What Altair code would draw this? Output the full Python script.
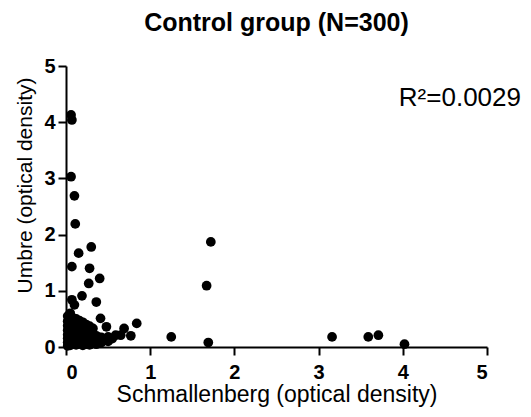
import altair as alt
import pandas as pd

# Scattered (outlying) points
outer_x = [0.06, 0.07, 0.06, 0.10, 0.11, 0.15, 0.30, 0.07, 0.28, 0.40, 0.27, 0.19, 0.07, 0.10,
           0.36, 0.41, 0.48, 0.84, 0.69, 0.77, 1.25, 0.59, 0.65, 1.67, 1.69, 1.72, 3.16, 3.59,
           3.71, 4.02]
outer_y = [4.13, 4.04, 3.03, 2.69, 2.19, 1.67, 1.78, 1.43, 1.40, 1.22, 1.13, 0.91, 0.84, 0.75,
           0.80, 0.51, 0.36, 0.42, 0.33, 0.20, 0.18, 0.21, 0.21, 1.09, 0.08, 1.87, 0.18, 0.18,
           0.21, 0.05]

# Dense cluster near the origin (estimated)
blob_x = [0.02] * 8 + [0.05] * 8 + [0.08] * 7 + [0.12] * 7 + [0.16] * 6 + [0.20] * 6 + \
         [0.24] * 5 + [0.28] * 5 + [0.32] * 4 + [0.36] * 3 + [0.42] * 2 + [0.50] * 2 + [0.55]
blob_y = [0.02, 0.08, 0.15, 0.22, 0.30, 0.38, 0.46, 0.55,
          0.03, 0.10, 0.18, 0.26, 0.34, 0.42, 0.50, 0.60,
          0.05, 0.12, 0.20, 0.28, 0.36, 0.45, 0.52,
          0.04, 0.10, 0.17, 0.25, 0.33, 0.41, 0.50,
          0.06, 0.13, 0.21, 0.30, 0.38, 0.47,
          0.03, 0.10, 0.18, 0.26, 0.35, 0.44,
          0.05, 0.13, 0.22, 0.30, 0.40,
          0.04, 0.11, 0.20, 0.29, 0.37,
          0.07, 0.15, 0.24, 0.33,
          0.05, 0.12, 0.20,
          0.08, 0.17,
          0.10, 0.18,
          0.15]

df = pd.DataFrame({
    "x": outer_x + blob_x,
    "y": outer_y + blob_y,
})

FONT = "Liberation Sans"

points = alt.Chart(df).mark_circle(size=95, color="black", opacity=1).encode(
    x=alt.X("x:Q", scale=alt.Scale(domain=[0, 5], nice=False, zero=True),
            axis=alt.Axis(title="Schmallenberg (optical density)", values=[0, 1, 2, 3, 4, 5],
                          format="d", grid=False, domainColor="black", domainWidth=2,
                          tickColor="black", tickWidth=2, tickSize=8,
                          labelFont=FONT, labelFontSize=20, labelFontWeight="bold",
                          labelColor="black", labelPadding=7,
                          titleFont=FONT, titleFontSize=23, titleFontWeight="normal",
                          titleColor="black", titlePadding=1)),
    y=alt.Y("y:Q", scale=alt.Scale(domain=[0, 5], nice=False, zero=True),
            axis=alt.Axis(title="Umbre (optical density)", values=[0, 1, 2, 3, 4, 5],
                          format="d", grid=False, domainColor="black", domainWidth=2,
                          tickColor="black", tickWidth=2, tickSize=8,
                          labelFont=FONT, labelFontSize=20, labelFontWeight="bold",
                          labelColor="black", labelPadding=3,
                          titleFont=FONT, titleFontSize=21, titleFontWeight="normal",
                          titleColor="black", titlePadding=8, titleY=119)),
)

r2_label = ["R²=0.0029"]
r2 = alt.Chart(pd.DataFrame({"t": r2_label})).mark_text(
    font=FONT, fontSize=26, color="black", align="right", baseline="alphabetic"
).encode(text="t:N", x=alt.value(455), y=alt.value(40))

chart = alt.layer(points, r2).properties(
    width=421,
    height=281,
    title=alt.TitleParams("Control group (N=300)", font=FONT, fontSize=25,
                          fontWeight="bold", color="black", anchor="middle", offset=20),
    autosize=alt.AutoSizeParams(type="none"),
    padding={"left": 58, "top": 58, "right": 36, "bottom": 62},
).configure_view(stroke=None)

chart.save("out.html", embed_options={"renderer": "svg", "actions": False})
